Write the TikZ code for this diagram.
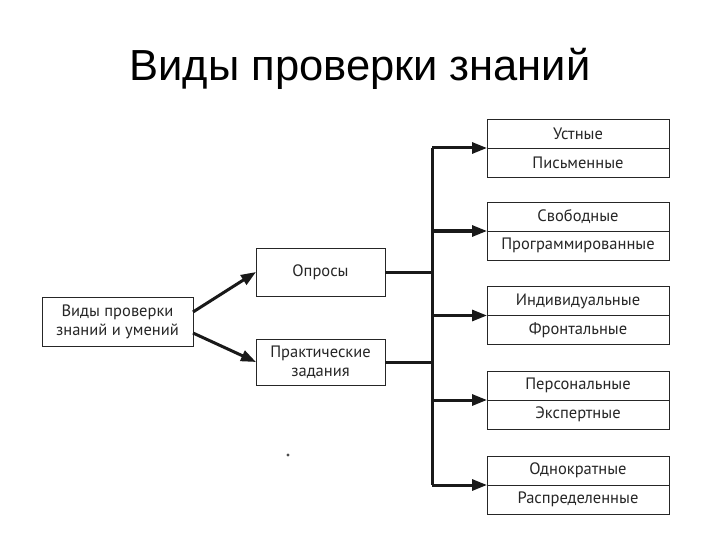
\documentclass[tikz,border=0pt]{standalone}
\usepackage{fontspec}
\setmainfont{Liberation Sans}
\newfontfamily\boxfont{PT Sans}
\usetikzlibrary{arrows.meta}
\begin{document}
\begin{tikzpicture}[x=1pt,y=-1pt,
  box/.style={draw=black!85, line width=0.9pt, inner sep=0pt, outer sep=0pt, align=center,
    font=\boxfont\fontsize{16.5}{19}\selectfont, text=black!85},
  half/.style={box, minimum width=182, minimum height=29},
  conn/.style={line width=3pt, black!90},
  arr/.style={conn, -{Triangle[length=15pt,width=11pt]}}]
\useasboundingbox[fill=white] (0,0) rectangle (720,540);
\node[font=\fontsize{43.5}{47}\selectfont] (title) at (360,69) {Виды проверки знаний};
\node[box, minimum width=151, minimum height=49] (root) at (117.5,321.5) {Виды проверки\\знаний и умений};
\node[box, minimum width=129, minimum height=48] (opr) at (320.5,272) {Опросы};
\node[box, minimum width=129, minimum height=46] (prak) at (320.5,362) {Практические\\задания};
\node[half] (r1a) at (578,133.5) {Устные};
\node[half] (r1b) at (578,162.5) {Письменные};
\node[half] (r2a) at (578,216.5) {Свободные};
\node[half] (r2b) at (578,245.5) {Программированные};
\node[half] (r3a) at (578,301) {Индивидуальные};
\node[half] (r3b) at (578,330) {Фронтальные};
\node[half] (r4a) at (578,385.5) {Персональные};
\node[half] (r4b) at (578,414.5) {Экспертные};
\node[half] (r5a) at (578,470.5) {Однократные};
\node[half] (r5b) at (578,499.5) {Распределенные};
\coordinate (ttop) at (432,148);
\coordinate (tbot) at (432,485);
\coordinate (ra) at (193,312);
\coordinate (rb) at (193,333);
\draw[arr] (ra) -- (opr.west);
\draw[arr] (rb) -- (prak.west);
\draw[conn] (opr.east) -- (opr.east -| ttop);
\draw[conn] (prak.east) -- (prak.east -| ttop);
\draw[conn] (ttop) -- (tbot);
\foreach \r in {r1a,r2a,r3a,r4a,r5a}
  \draw[arr] (\r.south west -| ttop) -- (\r.south west);
\fill[black!70] (288,455) circle (1.6);
\end{tikzpicture}
\end{document}
